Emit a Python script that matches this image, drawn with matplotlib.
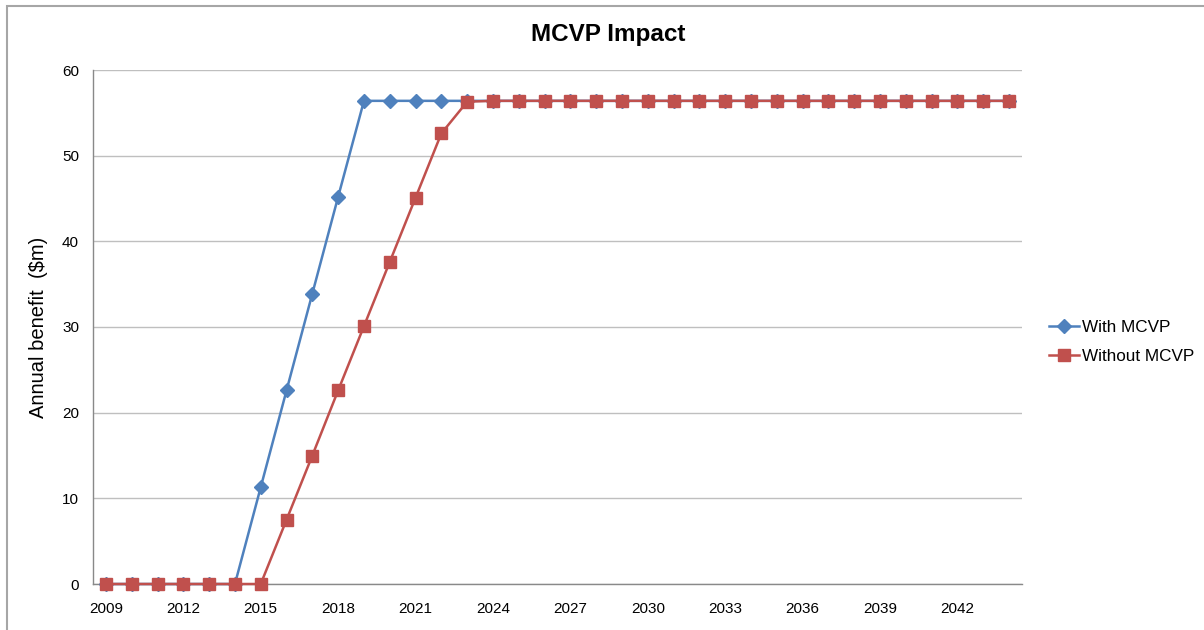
import matplotlib
matplotlib.use("Agg")
import matplotlib.pyplot as plt
from matplotlib.patches import Rectangle

plt.rcParams['font.family'] = ['Liberation Sans', 'DejaVu Sans']

years = list(range(2009, 2045))
with_mcvp = [0, 0, 0, 0, 0, 0, 11.3, 22.6, 33.9, 45.2] + [56.4] * 26
without_mcvp = [0, 0, 0, 0, 0, 0, 0, 7.5, 15.0, 22.6, 30.1, 37.6, 45.1, 52.6, 56.3] + [56.4] * 21
tick_years = list(range(2009, 2043, 3))

BLUE = '#4F81BD'
RED = '#C0504D'
GRID = '#BFBFBF'
AXIS = '#898989'

fig = plt.figure(figsize=(12.04, 6.30), dpi=100)
ax = fig.add_axes([93 / 1204, 1 - 584 / 630, (1022 - 93) / 1204, (584 - 70) / 630])

ax.plot(years, with_mcvp, color=BLUE, lw=1.8, marker='D', ms=7,
        mec=BLUE, mfc=BLUE, label='With MCVP', zorder=3, clip_on=False)
ax.plot(years, without_mcvp, color=RED, lw=1.8, marker='s', ms=8,
        mec=RED, mfc=RED, label='Without MCVP', zorder=4, clip_on=False)

ax.set_xlim(2008.5, 2044.5)
ax.set_ylim(0, 60)
ax.set_yticks(range(0, 61, 10))
ax.set_xticks(tick_years)
ax.tick_params(length=0, labelsize=11, colors='black')
ax.tick_params(axis='x', pad=13)
ax.tick_params(axis='y', pad=10)
ax.yaxis.grid(True, color=GRID, lw=1)
ax.set_axisbelow(True)
for s in ['top', 'right']:
    ax.spines[s].set_visible(False)
for s in ['left', 'bottom']:
    ax.spines[s].set_color(AXIS)
    ax.spines[s].set_linewidth(1)

ax.set_ylabel('Annual benefit  ($m)', fontsize=14.5, labelpad=10)

fig.text(0.505, 1 - 35 / 630, 'MCVP Impact', ha='center', va='center',
         fontsize=17.5, fontweight='bold')

fig.legend(loc='center left', bbox_to_anchor=(1034 / 1204, 1 - 342 / 630),
           frameon=False, fontsize=12.3, handlelength=1.75, handletextpad=0.15,
           labelspacing=0.8)

fig.patches.append(Rectangle((7 / 1204, -0.05), 1.2, 1 - 6 / 630 + 0.05,
                             transform=fig.transFigure, fill=False,
                             edgecolor='#A6A6A6', lw=1.5))

fig.savefig('out.png', dpi=100)
